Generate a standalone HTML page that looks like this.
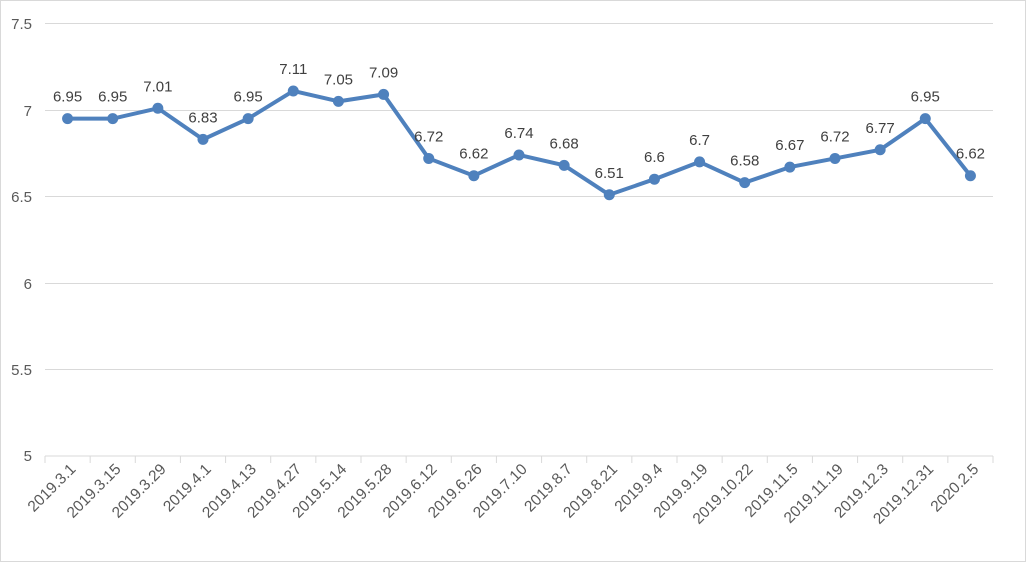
<!DOCTYPE html>
<html><head><meta charset="utf-8"><style>body{margin:0;background:#fff}svg{display:block}</style></head><body>
<svg width="1026" height="563" xmlns="http://www.w3.org/2000/svg" font-family="Liberation Sans, sans-serif">
<rect x="0.5" y="0.5" width="1025" height="561" fill="#fff" stroke="#d9d9d9"/>
<g stroke="#d9d9d9" stroke-width="1">
<line x1="45" x2="993" y1="23.5" y2="23.5"/><line x1="45" x2="993" y1="110.5" y2="110.5"/><line x1="45" x2="993" y1="196.5" y2="196.5"/><line x1="45" x2="993" y1="283.5" y2="283.5"/><line x1="45" x2="993" y1="369.5" y2="369.5"/><line x1="45" x2="993" y1="456" y2="456"/>
</g>
<g id="ticks" stroke="#d9d9d9"></g>
<g font-size="15" fill="#595959" text-anchor="end">
<text x="32" y="29">7.5</text><text x="32" y="116">7</text><text x="32" y="202">6.5</text><text x="32" y="289">6</text><text x="32" y="375">5.5</text><text x="32" y="461">5</text>
</g>
<g id="xl" font-size="15.5" fill="#595959" text-anchor="end"></g>
<polyline id="ln" fill="none" stroke="#4f81bd" stroke-width="4" stroke-linejoin="round"/>
<g id="pts" fill="#4f81bd"></g>
<g id="dl" font-size="15" fill="#404040" text-anchor="middle"></g>
</svg>
<script>
var L=["2019.3.1","2019.3.15","2019.3.29","2019.4.1","2019.4.13","2019.4.27","2019.5.14","2019.5.28","2019.6.12","2019.6.26","2019.7.10","2019.8.7","2019.8.21","2019.9.4","2019.9.19","2019.10.22","2019.11.5","2019.11.19","2019.12.3","2019.12.31","2020.2.5"];
var V=[6.95,6.95,7.01,6.83,6.95,7.11,7.05,7.09,6.72,6.62,6.74,6.68,6.51,6.6,6.7,6.58,6.67,6.72,6.77,6.95,6.62];
var ns="http://www.w3.org/2000/svg",w=948/21,p=[];
function el(t,a,par,txt){var e=document.createElementNS(ns,t);for(var k in a)e.setAttribute(k,a[k]);if(txt)e.textContent=txt;document.getElementById(par).appendChild(e);}
for(var i=0;i<=21;i++){var tx=45+w*i;el("line",{x1:tx,x2:tx,y1:456,y2:463},"ticks");}
for(i=0;i<21;i++){var x=45+w*(i+0.5),y=456-(V[i]-5)*173;p.push(x+","+y);
el("circle",{cx:x,cy:y,r:5.5},"pts");
el("text",{x:x,y:y-17},"dl",String(V[i]));
el("text",{x:0,y:0,transform:"translate("+(x+9)+",470) rotate(-45)"},"xl",L[i]);}
document.getElementById("ln").setAttribute("points",p.join(" "));
</script>
</body></html>
